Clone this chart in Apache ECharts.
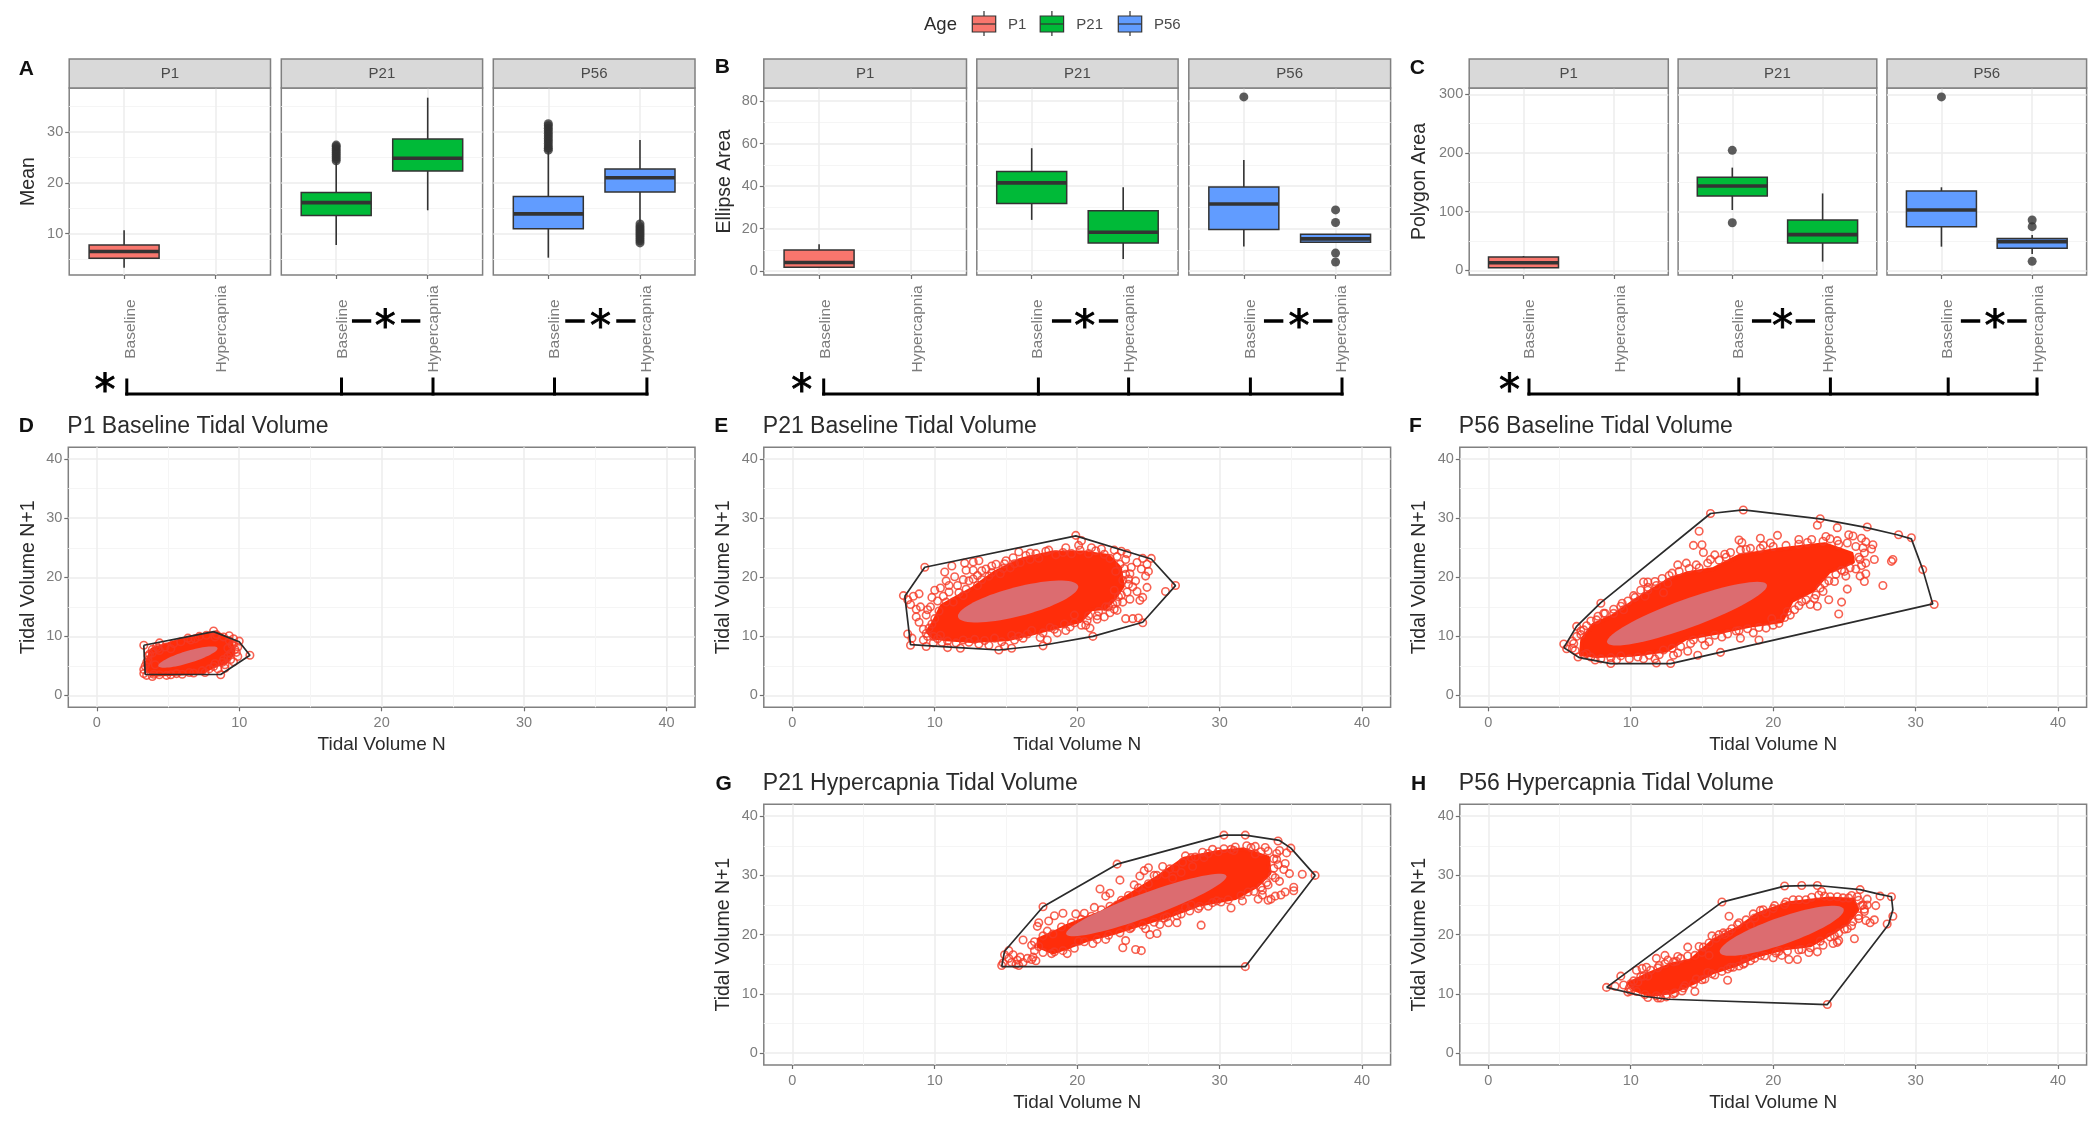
<!DOCTYPE html>
<html><head><meta charset="utf-8">
<style>html,body{margin:0;padding:0;background:#fff}#c{width:2100px;height:1125px;filter:blur(0.55px)}</style>
<script src="https://cdn.jsdelivr.net/npm/echarts@6/dist/echarts.min.js"></script>
</head><body><div id="c"></div>
<script>
// ---------- tick labels and categories ----------
const conditions = ['Baseline', 'Hypercapnia'];
const ages = ['P1', 'P21', 'P56'];
const ageColors = ['#F8766D', '#00BA38', '#619CFF'];
const meanTicks = [10, 20, 30], meanMinor = [5, 15, 25, 35];
const ellipseTicks = [0, 20, 40, 60, 80], ellipseMinor = [10, 30, 50, 70];
const polygonTicks = [0, 100, 200, 300], polygonMinor = [50, 150, 250];
const tidalTicks = [0, 10, 20, 30, 40], tidalMinor = [5, 15, 25, 35];

// ---------- box panels: [condition, low whisker, q1, median, q3, high whisker] ----------
const meanBoxes = [
  [[1, 3.3, 5.2, 6.5, 7.8, 10.7]],
  [[1, 7.8, 13.6, 16.1, 18.1, 24], [2, 14.6, 22.3, 24.8, 28.6, 36.7]],
  [[1, 5.3, 11, 13.9, 17.3, 26.2], [2, 12.3, 18.2, 21, 22.7, 28.4]]
];
const meanOutliers = [
  [],
  [[1, 24.3], [1, 24.7], [1, 25.1], [1, 25.5], [1, 25.9], [1, 26.3], [1, 26.7], [1, 27.1], [1, 27.4]],
  [[1, 26.4], [1, 26.8], [1, 27.2], [1, 27.7], [1, 28.2], [1, 28.7], [1, 29.2], [1, 29.7], [1, 30.2], [1, 30.7], [1, 31.2], [1, 31.6],
   [2, 8.2], [2, 8.6], [2, 9], [2, 9.4], [2, 9.8], [2, 10.2], [2, 10.6], [2, 11], [2, 11.4], [2, 11.9]]
];
const ellipseBoxes = [
  [[1, 1.9, 1.9, 4.1, 10, 12.7]],
  [[1, 24.1, 31.8, 41.5, 46.8, 57.8], [2, 5.7, 13.3, 18.3, 28.4, 39.5]],
  [[1, 11.6, 19.6, 31.6, 39.6, 52.3], [2, 13.6, 13.6, 15.2, 17.4, 17.4]]
];
const ellipseOutliers = [
  [],
  [],
  [[1, 81.9], [2, 28.8], [2, 22.9], [2, 8.5], [2, 4.3]]
];
const polygonBoxes = [
  [[1, 4.5, 4.5, 13, 22.7, 24.4]],
  [[1, 102.8, 126.7, 143.8, 158.5, 175], [2, 14.8, 46.6, 60.8, 85.8, 131]],
  [[1, 40.3, 74.4, 102.8, 135.2, 141.5], [2, 27.8, 37.5, 48.9, 54, 60]]
];
const polygonOutliers = [
  [],
  [[1, 204.5], [1, 81]],
  [[1, 295.5], [2, 85.8], [2, 74.4], [2, 15.3]]
];

// ---------- tidal volume panels ----------
const hullD = [[3.3,8.5],[8.2,10.8],[10,9.1],[10.75,6.8],[8.7,3.55],[3.4,3.55],[3.3,8.5]];
const coreD = [[3.4,5],[3.9,7.8],[5.7,9.2],[7.3,10.2],[8.5,10.5],[9.4,9.2],[9.6,7.4],[9.1,5.7],[8.2,5],[7.4,3.9],[3.9,3.5]];
const ellipseD = [6.4, 6.5, 2.62, 0.85, 40];
const pointsD = [[3.3,8.5],[4.4,8.9],[6.4,9.7],[8.2,10.9],[9.3,10.1],[10,9.2],[10.75,6.8],[9.8,7.3],[9.9,6.6],[9.4,6.1],[9,5.2],[9.6,5.7],[8.7,3.5],[8.5,4.5],[9,4.6],[3.3,3.7],[3.3,4.4],[3.5,3.4],[3.9,3.2],[4.9,3.4],[3.4,5],[4.1,5.2],[3.9,7.8],[4.4,7.6],[5.2,7.9],[9.5,8.6],[9.2,8],[8.3,9.9],[6.9,9.6],[4,3.6],[5.6,3.7],[6.5,3.9],[7.6,3.9],[8.2,4.9],[8.9,6.1],[3.6,6],[3.7,7],[4.2,8.3],[9.9,8.2],[9.6,9.6],
  [3.5,5.6],[3.6,6.7],[3.9,7.2],[4.3,8],[4.8,8.2],[5.4,8.8],[5.9,9.1],[6.6,9.4],[7.2,10],[7.7,10.2],[8.4,10.3],[8.9,9.9],[9.3,9.3],[9.6,8.7],[9.7,7.8],[9.4,7.1],[9.2,6.6],[8.8,5.6],[8.3,5.4],[7.9,4.5],[7.4,4.2],[6.8,3.8],[6,3.6],[5.2,3.5],[4.4,3.5]];

const hullE = [[7.9,16.8],[9.3,21.7],[19.9,27],[25.2,23.1],[26.9,18.6],[24.6,12.4],[21.1,10],[17.6,8.5],[14.5,7.7],[11.7,8.1],[8.3,8.6],[7.9,16.8]];
const coreE = [[9.5,10.8],[9.9,12.3],[10.5,15.2],[11.4,16.4],[12.6,18],[14.2,20.8],[16.1,23],[18.3,24.2],[20.4,24.2],[22.2,23.6],[23,21.6],[23.2,18.5],[22.6,16.4],[22,14.8],[21,14.6],[20.2,12.6],[18.6,11.6],[16.7,10.4],[15.1,9.5],[12.6,9.2],[10.8,9.5],[9.9,9.8]];
const ellipseE = [15.85, 15.9, 5.1, 2.1, 38];
const pointsE = [[7.8,16.9],[8.1,16.2],[8.3,15.4],[8.5,16.8],[8.9,17.2],[8.7,14.6],[9,15],[8.7,13.3],[8.9,12.4],[9.4,13.6],[9.7,15],[9.8,16.6],[10,17.8],[9.3,21.7],[10.7,20.9],[11.2,21.9],[12.1,22.4],[12.7,22.6],[13.1,22.8],[11.4,20.1],[10.8,19.4],[12.2,21.2],[13,20.3],[13.6,21.4],[14.3,22.2],[15,22.8],[15.9,24.3],[16.4,23.7],[17.1,24],[18,24.6],[19.2,25],[19.9,27.1],[20.3,26.2],[20.1,25.4],[21,25],[21.7,24.8],[22.6,24.6],[23.1,24.4],[23.5,24],[24.6,23.2],[25.2,23.2],[24.2,22.5],[24.9,22.2],[24.5,21.4],[25,21],[24.8,20.2],[23.7,20.6],[24.1,19.4],[24.9,18.3],[26.2,17.6],[26.9,18.6],[24.6,16.6],[24.4,16.1],[23.7,16.3],[22.9,16.7],[23.2,15.8],[22.8,14.4],[23.4,13],[23.9,13],[24.3,13.1],[24.6,12.3],[22,15],[22.5,15.5],[21.9,13.3],[22.3,14],[21.1,10],[20.3,11.9],[20.7,12.7],[19.8,13.6],[19.5,11.6],[18.6,10.6],[19.2,11],[17.6,8.4],[17.9,9.4],[18.1,11.5],[17.4,9.8],[16.5,10.4],[15.9,10],[15.4,10.2],[15.4,8],[14.9,8.3],[14.5,7.7],[13.8,8.5],[13.1,8.7],[11.8,8],[12.4,9],[10.9,8.1],[10.5,9],[9.4,8.3],[8.3,8.5],[8.4,9.7],[8.1,10.4],[9.4,10.5],[9.6,11.4],[9.9,10],[9.2,9.4],[10.4,10.2],[10.4,18.2],[11,17.5],[11.6,18.6],[12.4,19.4],[13.3,19.6],[14,20.8],[14.8,21.5],[15.6,22.3],[23.4,23],[23,22.2],[23.8,21.7],[23.6,19.7],[23.9,18.4],[23.5,17.5],[24.2,17.6],[21.4,12.9],[20.9,11.4],[22.6,17.8],[12.7,21.2],[10.2,16],
  [9.5,14.5],[10,13],[10.3,14.3],[10.6,16.8],[10.8,15.8],[11,18.6],[11.3,15.8],[11.7,17.4],[12,16.9],[12.2,18],[12,19.6],[12.7,19.7],[13,18.6],[13.3,21.1],[13.8,20.2],[14,21.9],[14.6,20.6],[14.9,22.3],[15.3,21.6],[15.5,23.3],[16,22.5],[16.7,23],[16.7,24.1],[17.3,23.2],[17.8,24.4],[18.5,23.8],[19,24.2],[19.6,24],[20.2,24.6],[20.8,24],[21.3,24.5],[21.9,23.9],[22.3,23.2],[22.8,23.5],[23.3,21.5],[23.4,20.5],[23.2,19.5],[22.7,21],[23.6,18.8],[23.1,17],[22.8,15.8],[22.2,15],[22.6,14.6],[21.5,14.2],[21.4,13.5],[20.8,13.5],[20.6,11.9],[19.8,12.3],[19.1,12.1],[18.4,11.2],[17.6,10.6],[16.8,11],[16.2,9.7],[15.6,9.4],[14.7,9.1],[14.2,9.7],[13.5,9.3],[12.8,9.5],[12,9.4],[11.5,8.9],[10.9,9.2],[10.2,9.6],[9.9,8.9],[9.5,10],[9.2,11.2],[9.8,12.1]];

const hullF = [[5.3,8.1],[6.4,6.4],[8.6,5.4],[12.8,5.4],[31.2,15.5],[30.5,21.3],[29.7,26.5],[28.7,27.2],[26.4,28.5],[23.3,29.9],[17.9,31.4],[15.6,30.8],[7.9,15.7],[6.2,11.7],[5.3,8.1]];
const coreF = [[6.6,9.5],[7.4,12],[8.7,13.4],[10.2,15.9],[12.7,19.6],[14,20.7],[15.8,21.4],[17.6,23.6],[20.4,24.7],[23.6,25.6],[25.5,24],[25.6,22.6],[23.9,20.9],[22.8,17.8],[21.3,16],[20.6,12.6],[18.6,11.9],[16.4,10.8],[13.9,9.7],[12.5,7.6],[10.1,6.9],[7.6,6.7],[6.5,7]];
const ellipseF = [13.95, 13.85, 7.55, 1.9, 43.7];
const pointsF = [[5.3,8.7],[5.5,7.9],[5.9,8],[6.3,6.5],[8.6,5.4],[11.8,5.5],[12.8,5.4],[14.7,6.8],[16.3,7.3],[19,9.4],[17.7,9.7],[15.2,8.5],[14,7.5],[13.3,7.2],[11.7,6.2],[6.2,11.7],[6.5,10.3],[7.6,12.8],[8.1,13.9],[7.9,15.6],[8.8,13.9],[9.5,14.5],[10.3,16.6],[10.9,19.2],[11.2,19.2],[11.2,17.8],[12.3,17.4],[12.9,20.7],[13.3,22.1],[13.9,22.4],[14.6,22.1],[14.4,25.4],[15,25.5],[15.1,24.2],[14.8,27.8],[15.6,30.8],[17.9,31.4],[23.3,29.9],[23.1,28.8],[24.5,28.4],[26.6,28.5],[28.8,27.2],[29.7,26.7],[30.5,21.3],[31.3,15.4],[28.3,22.7],[28.4,23],[27.7,18.6],[26.5,20.6],[26.4,19.3],[25.2,18],[24.8,15.8],[24.6,13.8],[15.6,23],[15.9,23.8],[17.6,26.3],[17.8,25.9],[19.1,26.6],[19.8,25.8],[20.3,27.1],[21.8,26.4],[23.7,26.9],[24,26.5],[25.3,27.2],[25.6,27],[26.2,26.6],[27,25.5],[26.5,26],[26.4,24.1],[27.1,23],[26.5,22.4],[26.1,20.2],[25.1,20.2],[23.9,16.2],[23.1,15.1],[22.6,15.4],[21.5,14.5],[20.4,12.2],[19.5,11.4],[24.3,19.3],[24.8,21.2],[25.4,21.6],[26,23.4],[26.9,24.8],[24.6,25.6],[22.4,25.9],[19.1,24.9],[18.1,24.7],[16.7,23.4],[23.6,19],[23.5,17.6],[22.9,16.4],[22,15.9],[21.2,13.6],[19.9,13],[17.6,11],[18.6,10.6],[16.4,9.9],[15.5,9.1],[14.2,8.8],[13,6.8],[10.9,6.2],[9,6],[7.5,6],[6.9,7.1],[6,8.8],[6.7,11.1],[9.4,15.6],[11.8,18.6],[12.6,19],[11,16.8],
  [6.1,7.6],[6.7,6.9],[7.2,6.5],[7.9,6.2],[8.6,6.4],[9.3,6.7],[9.9,6.2],[10.5,6.5],[11.3,6.8],[12,6.9],[12.3,7.7],[12.9,8],[13.5,8.3],[14.4,9.4],[15,9.6],[15.9,10.2],[16.8,10.4],[17.4,10.9],[18.2,11.3],[19,11.5],[20,11.9],[20.8,13.2],[21,14.2],[21.8,15.2],[22.3,16.2],[23,17],[23.3,18.2],[23.9,19.4],[24.4,20.5],[25,21],[25.8,21.4],[26.2,22],[26.1,23],[26.3,25],[25.8,25.2],[25.2,25.8],[24.5,26.2],[23.5,26.1],[22.7,26.4],[21.8,25.6],[20.9,25.4],[20,25.2],[19.3,25.4],[18.4,24.9],[17.7,24.6],[17,24.2],[16.6,23.9],[16.2,22.9],[15.4,22.4],[14.8,21.6],[14.1,21.5],[13.4,21],[12.7,20.3],[12.2,19.8],[11.7,19.3],[11.2,18.3],[10.7,17.8],[10.2,16.9],[9.8,16],[9.3,15.1],[8.8,14.6],[8.2,13.9],[7.7,13.4],[7.2,12.6],[6.9,11.8],[6.5,10.9],[6.2,10],[5.9,9.2]];

const hullG = [[14.7,14.6],[14.9,17.2],[17.6,24.7],[22.8,31.9],[30.3,36.8],[31.8,36.8],[34.2,35.9],[35,34.6],[36.7,30],[31.8,14.6],[14.7,14.6]];
const coreG = [[17.3,19.2],[17.3,18],[18.3,17],[19.5,18],[20.8,19.2],[22.6,20.3],[24.8,22],[26.7,23.4],[28.6,25.1],[31.1,26.2],[32.6,28.2],[33.5,30.4],[33.4,33],[31.7,34.4],[29.8,33.9],[27.5,32.8],[25.4,29.3],[23.9,27],[21.7,23.7],[19.2,21.4],[18.6,20.6]];
const ellipseG = [24.85, 25, 7.55, 1.6, 43];
const pointsG = [[17.6,24.7],[17.3,22],[17.2,21.4],[18,22.3],[18.4,23.2],[19,23.6],[19.9,23.5],[20.5,23.6],[21.2,24.6],[21.6,27.7],[22,26.5],[22.3,27],[22.8,31.9],[23,29.2],[24,28.4],[24.4,29.9],[24.7,30.8],[25,31.3],[25.4,30],[26,31.5],[26.5,31.1],[27.3,30.5],[27.6,33.3],[28.3,33.1],[29.2,33.7],[29.9,34],[30.3,36.8],[31.8,36.8],[31.1,34.8],[31.9,35],[32.5,34.9],[33.2,34.7],[34.1,35.8],[34.2,34.2],[34.7,33.8],[35,34.6],[34,33.7],[34.6,32],[34.5,31],[34.9,30.3],[35.8,30.2],[36.7,30],[35.2,28],[35.2,27.4],[34.6,27.2],[34.3,26.7],[33.9,26.5],[33.6,26],[33.4,25.8],[33,26.7],[33,27.5],[32.7,26],[31.6,25.7],[30.8,24.5],[30.1,25.5],[29.2,24.8],[28.5,24.4],[27.9,24],[27.3,23.5],[28.7,21.6],[27,22],[26.4,22],[25.8,21.7],[25.6,20.2],[25.1,20],[23.4,19],[23.2,17.8],[24.1,17.5],[24.5,17.3],[22,19.2],[21.1,18.5],[20.1,18.9],[19.3,16.8],[18.4,17.1],[17.3,18],[16.8,18.2],[16.2,19.1],[31.8,14.6],[15.2,16],[15.5,16.6],[15.8,15.7],[16,16.2],[16.2,15.3],[16.5,16],[16.8,15.8],[15.4,15.3],[15.7,15],[14.7,14.8],[14.8,15.2],[15.9,14.8],[17.1,15.6],[16.9,16.2],[15.2,17.3],[14.9,16.6],[34,32.7],[33.7,30],[34.2,29],[33.4,28.4],[32.5,33.6],[30.8,34.4],[28.9,33],[26.7,29.5],[26.9,27.6],[28.1,31.5],[22.8,25],[22.9,24],[24.6,27.1],[23.7,21],[24.8,21],[26.1,22.8],[28,25],[29.8,25.7],[32,27.2],
  [17,18.8],[17.6,19.8],[17.9,20.6],[18.3,20.1],[18.9,21.3],[19.6,22],[20.3,22.6],[21,23.1],[21.7,24.2],[22.3,24.8],[23.1,25.8],[23.6,26.6],[24.3,27.9],[25,28.6],[25.6,30],[26.2,30.2],[26.9,31.2],[27.4,32.2],[28,33],[28.8,33.9],[29.5,34.4],[30.3,34.5],[31,34.2],[32.2,34.7],[32.9,34],[33.4,34.1],[33.8,32.8],[34.1,31.8],[33.8,31.2],[33.9,29.6],[33.3,28.8],[32.9,28],[32.4,27.3],[31.5,26.6],[30.6,25.9],[29.5,25.4],[28.6,24.8],[27.6,24.6],[27,23.2],[26.3,23],[25.4,22.1],[24.6,21.6],[23.8,21.2],[23,20.3],[22.2,19.9],[21.4,19.2],[20.5,18.8],[19.8,17.7],[19,17.3],[18.2,16.8],[17.6,17],[17,17.3]];

const hullH = [[8.3,11.1],[10.9,9.6],[12.6,9.1],[23.8,8.2],[28.1,21.7],[28.4,24.2],[28.3,26.4],[27.5,26.8],[26.1,27.6],[23.1,28.3],[20.8,28.2],[16.4,25.5],[8.3,11.1]];
const coreH = [[9.9,11.8],[11.4,13.5],[12.9,15],[14.2,15.6],[15.8,19],[17.6,21.2],[18.9,23.4],[21.1,25.3],[23.9,26.1],[25.6,25.9],[25.9,24.2],[25.2,22],[24.2,20.4],[22.6,18.2],[20.8,17.7],[18.9,16.5],[17.3,14.8],[15.8,13.7],[14.5,12],[12.9,10.3],[11.4,9.8],[10.2,10.8]];
const ellipseH = [20.6, 20.65, 5.8, 1.8, 44];
const pointsH = [[8.3,11.1],[8.9,11.3],[9.3,13],[9.8,10.3],[9.9,11],[10.2,12.2],[10.4,14],[10.8,14.3],[11.1,14.5],[11.2,13],[11.9,9.3],[12.1,9.3],[12.5,9.5],[11.8,16],[12.4,16.5],[12.6,15.7],[13.3,16.3],[14,17.9],[14.8,18],[15,17],[15.5,16.5],[15.7,19.8],[16.2,20],[16.6,20],[16.4,25.5],[16.9,23.1],[16.8,12.3],[15.9,13.2],[15.2,12.5],[14.6,12.5],[14.5,10.4],[13.6,10.5],[17,14.5],[17.6,14.7],[17.9,15],[18,16],[18.4,21.6],[18.7,22.8],[19.5,23.6],[20,24.4],[20.8,25.1],[20.8,28.2],[22,28.3],[23.1,28.3],[23.4,27.3],[22.3,25.9],[24,26.4],[24.9,26.2],[25.5,26.6],[26.1,27.6],[26.6,26],[27.5,26.5],[28.3,26.4],[27.2,24.9],[26.6,25],[28.4,23.1],[28,21.8],[27.1,22.5],[26.8,22],[26.5,22.4],[26,22.7],[25.7,19.3],[24.5,18.7],[24.2,18.5],[24.6,19],[23.5,18.2],[22.5,17],[23.1,17.1],[21.7,15.8],[21.1,15.8],[20.6,16.5],[20,16.1],[19.1,16.5],[17.9,17.5],[23.8,8.2],[26.4,23.9],[26.2,24.9],[25.9,26.4],[23.2,26.7],[21.4,25.9],[19.1,24.1],[17.6,22],[16.9,20.4],[25.5,21.5],[25,20.9],[24.3,19.8],[22,17.5],[20.4,17.2],[18.4,15.6],[16.8,14.2],[15.4,13.6],[13.8,11.4],[13,10],[11.2,9.4],[10,10.5],[10.7,12.9],[12,14.8],[13.2,15.5],
  [9.5,11.5],[10,11.7],[10.5,12],[10.9,13],[11.4,14],[11.9,14.4],[12.4,15.1],[13,15.4],[13.5,16],[14,16.4],[14.5,16.5],[15.1,17.9],[15.5,18.6],[16,19.4],[16.5,20.3],[17.1,21],[17.5,21.7],[18.1,22.5],[18.6,23.5],[19.3,24.2],[20.1,24.9],[20.9,25.5],[21.8,25.9],[22.7,26.3],[23.6,26.5],[24.5,26.4],[25.3,26.2],[26,25.8],[26.3,25],[26.4,24.3],[26,23.2],[25.6,22.2],[25.2,21],[24.6,20.3],[24,19.6],[23.3,18.9],[22.6,17.8],[21.8,17.4],[21,17.2],[20.2,16.9],[19.4,16.4],[18.7,16],[18,15.2],[17.2,14.5],[16.4,13.8],[15.7,13.4],[15,12.4],[14.4,11.7],[13.7,11],[13.1,10.2],[12.5,9.9],[11.8,9.7],[11,9.9],[10.4,10.4]];

// ---------- layout constants ----------
const SANS = '"Liberation Sans",Arial,sans-serif';
const TICK = '#7d7d7d', BORDER = '#808080', MAJOR = '#ececec', MINOR = '#f5f5f5';
const grids = [], xAxes = [], yAxes = [], series = [], graphics = [], titles = [];

function minorAxis(type, gridIndex, min, max, values, position) {
  return { type: 'value', gridIndex, min, max, position, show: true,
    axisLine: { show: false, onZero: false }, axisTick: { show: false, customValues: values },
    axisLabel: { show: false, customValues: values },
    splitLine: { show: true, lineStyle: { color: MINOR, width: 1 } } };
}
function addGrid(rect, xCfg, yCfg) {
  const g = grids.length;
  grids.push({ left: rect[0], top: rect[1], width: rect[2], height: rect[3], show: true,
    borderColor: BORDER, borderWidth: 1.5, backgroundColor: '#fff' });
  xAxes.push(Object.assign({ type: 'value', gridIndex: g, position: 'bottom', nameMoveOverlap: false,
    axisLine: { show: false, onZero: false }, splitLine: { show: true, lineStyle: { color: MAJOR, width: 1.5 } } }, xCfg));
  yAxes.push(Object.assign({ type: 'value', gridIndex: g, position: 'left', nameMoveOverlap: false,
    axisLine: { show: false, onZero: false }, splitLine: { show: true, lineStyle: { color: MAJOR, width: 1.5 } } }, yCfg));
  return g;
}
function tickStyle() { return { show: true, length: 4, lineStyle: { color: '#6e6e6e', width: 1.2 } }; }

function drawBox(color) {
  return function (params, api) {
    const x = api.value(0), w = 35;
    const lo = api.coord([x, api.value(1)]), q1 = api.coord([x, api.value(2)]),
      md = api.coord([x, api.value(3)]), q3 = api.coord([x, api.value(4)]), hi = api.coord([x, api.value(5)]);
    const dark = '#333';
    return { type: 'group', children: [
      { type: 'line', shape: { x1: lo[0], y1: lo[1], x2: lo[0], y2: q1[1] }, style: { stroke: dark, lineWidth: 1.6 } },
      { type: 'line', shape: { x1: lo[0], y1: q3[1], x2: lo[0], y2: hi[1] }, style: { stroke: dark, lineWidth: 1.6 } },
      { type: 'rect', shape: { x: lo[0] - w, y: q3[1], width: 2 * w, height: q1[1] - q3[1] },
        style: { fill: color, stroke: dark, lineWidth: 1.5 } },
      { type: 'line', shape: { x1: lo[0] - w, y1: md[1], x2: lo[0] + w, y2: md[1] }, style: { stroke: dark, lineWidth: 3.6 } }
    ] };
  };
}

function addBoxRow(rects, extent, ticks, minor, yName, boxes, outliers, nameGap) {
  rects.forEach(function (r, i) {
    const g = addGrid([r[0], 88, r[1] - r[0], 187], {
      min: 0.4, max: 2.6,
      axisTick: Object.assign(tickStyle(), { customValues: [1, 2] }),
      axisLabel: { customValues: [1, 2], formatter: function (v) { return conditions[v - 1]; }, rotate: 90,
        align: 'center', verticalAlign: 'top', lineHeight: 13, margin: 54,
        color: TICK, fontFamily: SANS, fontSize: 15.5 }
    }, {
      min: extent[0], max: extent[1], name: i === 0 ? yName : '', nameLocation: 'middle', nameGap,
      nameTextStyle: { color: '#2b2b2b', fontFamily: SANS, fontSize: 19.5 },
      axisTick: Object.assign(tickStyle(), { show: i === 0, customValues: ticks }),
      axisLabel: { show: i === 0, customValues: ticks, margin: 6, color: TICK, fontFamily: SANS, fontSize: 14.5 }
    });
    yAxes.push(minorAxis('y', g, extent[0], extent[1], minor, 'right'));
    const yIdx = yAxes.length - 1;
    series.push({ type: 'custom', name: ages[i], xAxisIndex: xAxes.length - 1, yAxisIndex: yIdx - 1, z: 3,
      renderItem: drawBox(ageColors[i]), data: boxes[i], encode: { x: 0, y: [1, 2, 3, 4, 5] } });
    if (outliers[i].length) {
      series.push({ type: 'scatter', name: ages[i] + ' outliers', xAxisIndex: xAxes.length - 1, yAxisIndex: yIdx - 1, z: 4,
        symbolSize: 9, itemStyle: { color: '#333' }, data: outliers[i] });
    }
    graphics.push({ type: 'rect', shape: { x: r[0], y: 59, width: r[1] - r[0], height: 29 },
      style: { fill: '#D9D9D9', stroke: BORDER, lineWidth: 1.5 }, z: 10 });
    graphics.push({ type: 'text', x: (r[0] + r[1]) / 2, y: 74, z: 11,
      style: { text: ages[i], fill: '#4a4a4a', font: '15px ' + SANS, textAlign: 'center', textVerticalAlign: 'middle' } });
  });
}

function addTidal(rect, name, hull, core, ell, pts) {
  const g = addGrid(rect, {
    min: -2, max: 42, name: 'Tidal Volume N', nameLocation: 'middle', nameGap: 28,
    nameTextStyle: { color: '#2b2b2b', fontFamily: SANS, fontSize: 19 },
    axisTick: Object.assign(tickStyle(), { customValues: tidalTicks }),
    axisLabel: { customValues: tidalTicks, margin: 8, color: TICK, fontFamily: SANS, fontSize: 14.5 }
  }, {
    min: -2, max: 42, name: 'Tidal Volume N+1', nameLocation: 'middle', nameGap: 30,
    nameTextStyle: { color: '#2b2b2b', fontFamily: SANS, fontSize: 19.5 },
    axisTick: Object.assign(tickStyle(), { customValues: tidalTicks }),
    axisLabel: { customValues: tidalTicks, margin: 6, color: TICK, fontFamily: SANS, fontSize: 14.5 }
  });
  const xi = xAxes.length - 1, yi = yAxes.length - 1;
  xAxes.push(minorAxis('x', g, -2, 42, tidalMinor, 'top'));
  yAxes.push(minorAxis('y', g, -2, 42, tidalMinor, 'right'));
  series.push({ type: 'custom', name: name + ' dense points', xAxisIndex: xi, yAxisIndex: yi, z: 2, silent: true,
    data: core, encode: { x: 0, y: 1 },
    renderItem: function (params, api) {
      if (params.dataIndex !== 0) return null;
      return { type: 'polygon', shape: { points: core.map(function (p) { return api.coord(p); }) },
        style: { fill: '#FF2D0A', stroke: '#FF2D0A', lineWidth: 4, lineJoin: 'round' } };
    } });
  series.push({ type: 'scatter', name, xAxisIndex: xi, yAxisIndex: yi, z: 3, symbolSize: 7.5, data: pts,
    itemStyle: { color: 'rgba(0,0,0,0)', borderColor: '#F53A26', borderWidth: 1.6 } });
  series.push({ type: 'custom', name: name + ' ellipse', xAxisIndex: xi, yAxisIndex: yi, z: 4, silent: true,
    data: [ell], encode: { x: 0, y: 1 },
    renderItem: function (params, api) {
      const cx = api.value(0), cy = api.value(1), a = api.value(2), b = api.value(3), t = api.value(4) * Math.PI / 180;
      const ring = [];
      for (let k = 0; k < 72; k++) {
        const u = k / 72 * 2 * Math.PI;
        ring.push(api.coord([cx + a * Math.cos(u) * Math.cos(t) - b * Math.sin(u) * Math.sin(t),
                             cy + a * Math.cos(u) * Math.sin(t) + b * Math.sin(u) * Math.cos(t)]));
      }
      return { type: 'polygon', shape: { points: ring }, style: { fill: '#DC6C70' } };
    } });
  series.push({ type: 'line', name: name + ' hull', xAxisIndex: xi, yAxisIndex: yi, z: 5, data: hull, symbol: 'none', silent: true,
    lineStyle: { color: '#2b2b2b', width: 1.7 } });
  titles.push({ text: name, left: rect[0] - 6, top: rect[1] - 37,
    textStyle: { fontFamily: SANS, fontSize: 23, fontWeight: 'normal', color: '#2b2b2b' } });
}

// ---------- build panels ----------
addBoxRow([[69.2, 270.5], [281.3, 482.6], [493.3, 695]], [1.9, 38.6], meanTicks, meanMinor, 'Mean', meanBoxes, meanOutliers, 30.5);
addBoxRow([[763.8, 966.5], [976.8, 1178.1], [1188.8, 1390.6]], [-1.8, 86.1], ellipseTicks, ellipseMinor, 'Ellipse Area', ellipseBoxes, ellipseOutliers, 29.5);
addBoxRow([[1469.2, 1668.3], [1678.1, 1876.8], [1887, 2086.6]], [-8, 310.7], polygonTicks, polygonMinor, 'Polygon Area', polygonBoxes, polygonOutliers, 39.5);

addTidal([68.3, 447.3, 626.7, 260], 'P1 Baseline Tidal Volume', hullD, coreD, ellipseD, pointsD);
addTidal([763.8, 447.3, 626.8, 260], 'P21 Baseline Tidal Volume', hullE, coreE, ellipseE, pointsE);
addTidal([1459.8, 447.3, 626.8, 260], 'P56 Baseline Tidal Volume', hullF, coreF, ellipseF, pointsF);
addTidal([763.8, 804.3, 626.8, 260.7], 'P21 Hypercapnia Tidal Volume', hullG, coreG, ellipseG, pointsG);
addTidal([1459.8, 804.3, 626.8, 260.7], 'P56 Hypercapnia Tidal Volume', hullH, coreH, ellipseH, pointsH);

// ---------- panel letters ----------
[['A', 18.7, 69], ['B', 714.7, 67], ['C', 1409.8, 68], ['D', 18.7, 426], ['E', 714.3, 426], ['F', 1409, 426], ['G', 715.6, 784], ['H', 1411, 784]]
  .forEach(function (l) {
    graphics.push({ type: 'text', x: l[1], y: l[2], z: 12,
      style: { text: l[0], fill: '#111', font: 'bold 21px ' + SANS, textVerticalAlign: 'middle' } });
  });

// ---------- legend ----------
graphics.push({ type: 'text', x: 924, y: 25, z: 12,
  style: { text: 'Age', fill: '#2b2b2b', font: '18.5px ' + SANS, textVerticalAlign: 'middle' } });
[[972.3, 1008], [1040.2, 1076.3], [1118.3, 1154]].forEach(function (k, i) {
  graphics.push({ type: 'line', shape: { x1: k[0] + 11.7, y1: 11, x2: k[0] + 11.7, y2: 36 }, style: { stroke: '#333', lineWidth: 1.2 }, z: 11 });
  graphics.push({ type: 'rect', shape: { x: k[0], y: 16, width: 23.4, height: 16 }, style: { fill: ageColors[i], stroke: '#333', lineWidth: 1.2 }, z: 12 });
  graphics.push({ type: 'line', shape: { x1: k[0], y1: 24, x2: k[0] + 23.4, y2: 24 }, style: { stroke: '#333', lineWidth: 1.2 }, z: 13 });
  graphics.push({ type: 'text', x: k[1], y: 25, z: 12,
    style: { text: ages[i], fill: '#4a4a4a', font: '15px ' + SANS, textVerticalAlign: 'middle' } });
});

// ---------- significance annotations ----------
function bar(x1, y1, x2, y2, w) {
  graphics.push({ type: 'line', shape: { x1, y1, x2, y2 }, style: { stroke: '#000', lineWidth: w, lineCap: 'square' }, z: 12 });
}
function star(x, y) {
  graphics.push({ type: 'text', x, y, z: 12,
    style: { text: '*', fill: '#000', stroke: '#000', lineWidth: 0.9, font: '42px "DejaVu Sans"', textAlign: 'center', textVerticalAlign: 'top' } });
}
[
  { left: 126.8, t: [341.5, 433, 554.5, 646.9], s: 104.9, d: [[352.7, 370.5], [401.8, 419.6]], ds: 385.3, e: [[566, 584], [617, 634.8]], es: 600.4 },
  { left: 823.7, t: [1038.4, 1128.6, 1250.4, 1342], s: 801.8, d: [[1052.7, 1070.5], [1099.6, 1117.4]], ds: 1084.8, e: [[1264.7, 1282.6], [1313.8, 1331.7]], es: 1299.1 },
  { left: 1529, t: [1738.8, 1830.4, 1948.2, 2037], s: 1509.4, d: [[1752.7, 1770.5], [1796.4, 1814.3]], ds: 1782.6, e: [[1961.6, 1979.5], [2008, 2025.9]], es: 1995 }
].forEach(function (a) {
  bar(a.left, 394, a.t[3], 394, 3.2);
  bar(a.left, 380, a.left, 394, 3);
  a.t.forEach(function (x) { bar(x, 379, x, 394, 3); });
  star(a.s, 372);
  [a.d, a.e].forEach(function (pair) { pair.forEach(function (d) { bar(d[0] + 1, 321, d[1] - 1, 321, 3.5); }); });
  star(a.ds, 308);
  star(a.es, 308);
});

const chart = echarts.init(document.getElementById('c'), null, { renderer: 'canvas', width: 2100, height: 1125 });
chart.setOption({
  animation: false, backgroundColor: '#fff',
  title: titles, grid: grids, xAxis: xAxes, yAxis: yAxes, series, graphic: { elements: graphics }
});
</script></body></html>
